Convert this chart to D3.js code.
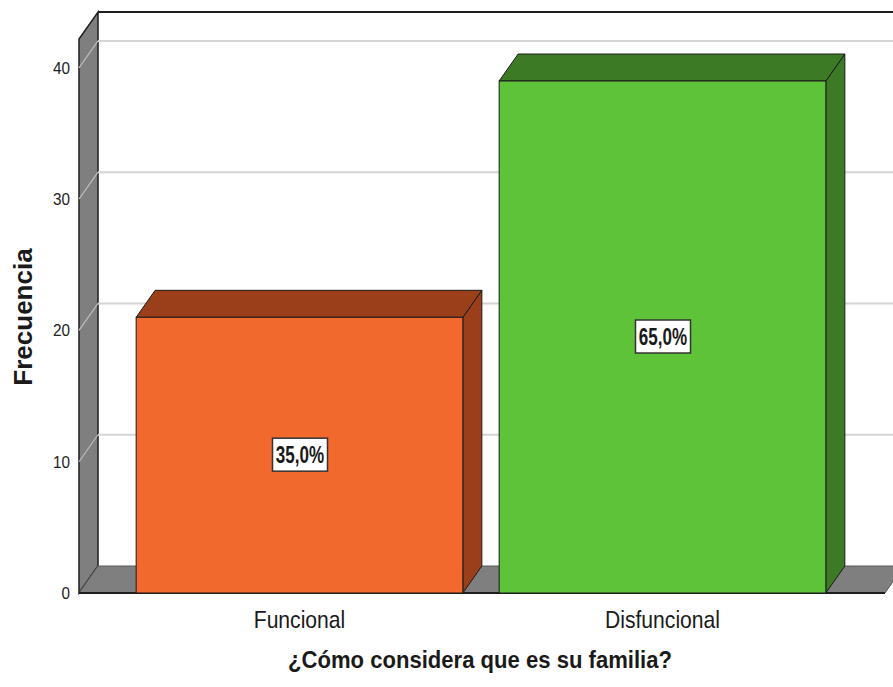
<!DOCTYPE html>
<html>
<head>
<meta charset="utf-8">
<script src="https://cdn.jsdelivr.net/npm/d3@7"></script>
<style>
  body { margin: 0; background: #fff; }
  text { font-family: "Liberation Sans", Arial, sans-serif; }
</style>
</head>
<body>
<svg id="chart" width="893" height="687"></svg>
<script>
// data
var categories = ["Funcional", "Disfuncional"];
var counts = [21, 39];
var yTicks = [0, 10, 20, 30, 40];
var frontColors = ["#f2692d", "#5fc33a"];
var sideColors = ["#9b3f1a", "#3d7a26"];

var svg = d3.select("#chart");
var W = +svg.attr("width");

// 3D depth offset (back plane is up and right)
var dx = 19, dy = -27;

// front plane
var x0 = 79, x1 = 885;
var y = d3.scaleLinear().domain([0, 42.2]).range([593, 39]);
var x = d3.scaleBand()
	.domain(categories)
	.range([118, 844])
	.paddingInner(0.1)
	.paddingOuter(0.05);

var total = d3.sum(counts);
function pct(v) {
	return d3.format(".1f")(v / total * 100).replace(".", ",") + "%";
}

// text with horizontal squeeze
function label(g, tx, ty, str, size, sx, anchor, weight) {
	return g.append("text")
		.attr("transform", "translate(" + tx + "," + ty + ") scale(" + sx + ",1)")
		.attr("text-anchor", anchor)
		.style("font-size", size + "px")
		.style("font-weight", weight || "normal")
		.attr("fill", "#1a1a1a")
		.text(str);
}

var y0 = y(0), yTop = y.range()[1];

// back wall
svg.append("rect")
	.attr("x", x0 + dx).attr("y", yTop + dy)
	.attr("width", W).attr("height", y0 - yTop)
	.attr("fill", "#fff");

// left wall
svg.append("polygon")
	.attr("points", [[x0, y0], [x0, yTop], [x0 + dx, yTop + dy], [x0 + dx, y0 + dy]].join(" "))
	.attr("fill", "#7f7f7f")
	.attr("stroke", "#1e1e1e")
	.attr("stroke-width", 1.5);

// gridlines on back wall and left wall
yTicks.filter(function(d) { return d > 0; }).forEach(function(t) {
	svg.append("line")
		.attr("x1", x0 + dx).attr("x2", W)
		.attr("y1", y(t) + dy).attr("y2", y(t) + dy)
		.attr("stroke", "#d4d4d4").attr("stroke-width", 2);
	svg.append("line")
		.attr("x1", x0).attr("x2", x0 + dx)
		.attr("y1", y(t)).attr("y2", y(t) + dy)
		.attr("stroke", "#bdbdbd").attr("stroke-width", 1.2);
});

// top edge of back wall
svg.append("line")
	.attr("x1", x0 + dx).attr("x2", W)
	.attr("y1", yTop + dy).attr("y2", yTop + dy)
	.attr("stroke", "#1e1e1e").attr("stroke-width", 2);

// floor
svg.append("polygon")
	.attr("points", [[x0, y0], [x1, y0], [x1 + dx, y0 + dy], [x0 + dx, y0 + dy]].join(" "))
	.attr("fill", "#7f7f7f")
	.attr("stroke", "#5a5a5a")
	.attr("stroke-width", 1);
svg.append("line")
	.attr("x1", x0).attr("x2", x1)
	.attr("y1", y0).attr("y2", y0)
	.attr("stroke", "#1e1e1e").attr("stroke-width", 2);

// bars
var bars = svg.selectAll("g.bar")
	.data(categories)
	.enter()
	.append("g")
	.attr("class", "bar");

bars.each(function(c, i) {
	var g = d3.select(this);
	var bx0 = x(c), bx1 = x(c) + x.bandwidth();
	var by = y(counts[i]);
	// side
	g.append("polygon")
		.attr("points", [[bx1, by], [bx1 + dx, by + dy], [bx1 + dx, y0 + dy], [bx1, y0]].join(" "))
		.attr("fill", sideColors[i]).attr("stroke", "#1a1a1a").attr("stroke-width", 1);
	// top
	g.append("polygon")
		.attr("points", [[bx0, by], [bx0 + dx, by + dy], [bx1 + dx, by + dy], [bx1, by]].join(" "))
		.attr("fill", sideColors[i]).attr("stroke", "#1a1a1a").attr("stroke-width", 1);
	// front
	g.append("rect")
		.attr("x", bx0).attr("y", by)
		.attr("width", bx1 - bx0).attr("height", y0 - by)
		.attr("fill", frontColors[i]).attr("stroke", "#1a1a1a").attr("stroke-width", 1);

	// percentage label
	var cx = (bx0 + bx1) / 2, cy = (by + y0) / 2;
	g.append("rect")
		.attr("x", cx - 27).attr("y", cy - 17)
		.attr("width", 55).attr("height", 33)
		.attr("fill", "#fff").attr("stroke", "#333").attr("stroke-width", 1.5);
	label(g, cx + 0.5, cy + 8, pct(counts[i]), 24, 0.71, "middle", "bold");
});

// y tick labels
yTicks.forEach(function(t) {
	label(svg, 70, y(t) + 6, t, 17, 0.9, "end").attr("fill", "#222");
});

// x category labels
categories.forEach(function(c) {
	label(svg, x(c) + x.bandwidth() / 2, 628, c, 24, 0.88, "middle");
});

// axis titles
label(svg, 480, 668, "¿Cómo considera que es su familia?", 24, 0.92, "middle", "bold");

svg.append("text")
	.attr("transform", "translate(32," + 317 + ") rotate(-90)")
	.attr("text-anchor", "middle")
	.style("font-size", "26px")
	.style("font-weight", "bold")
	.attr("fill", "#1a1a1a")
	.text("Frecuencia");
</script>
</body>
</html>
